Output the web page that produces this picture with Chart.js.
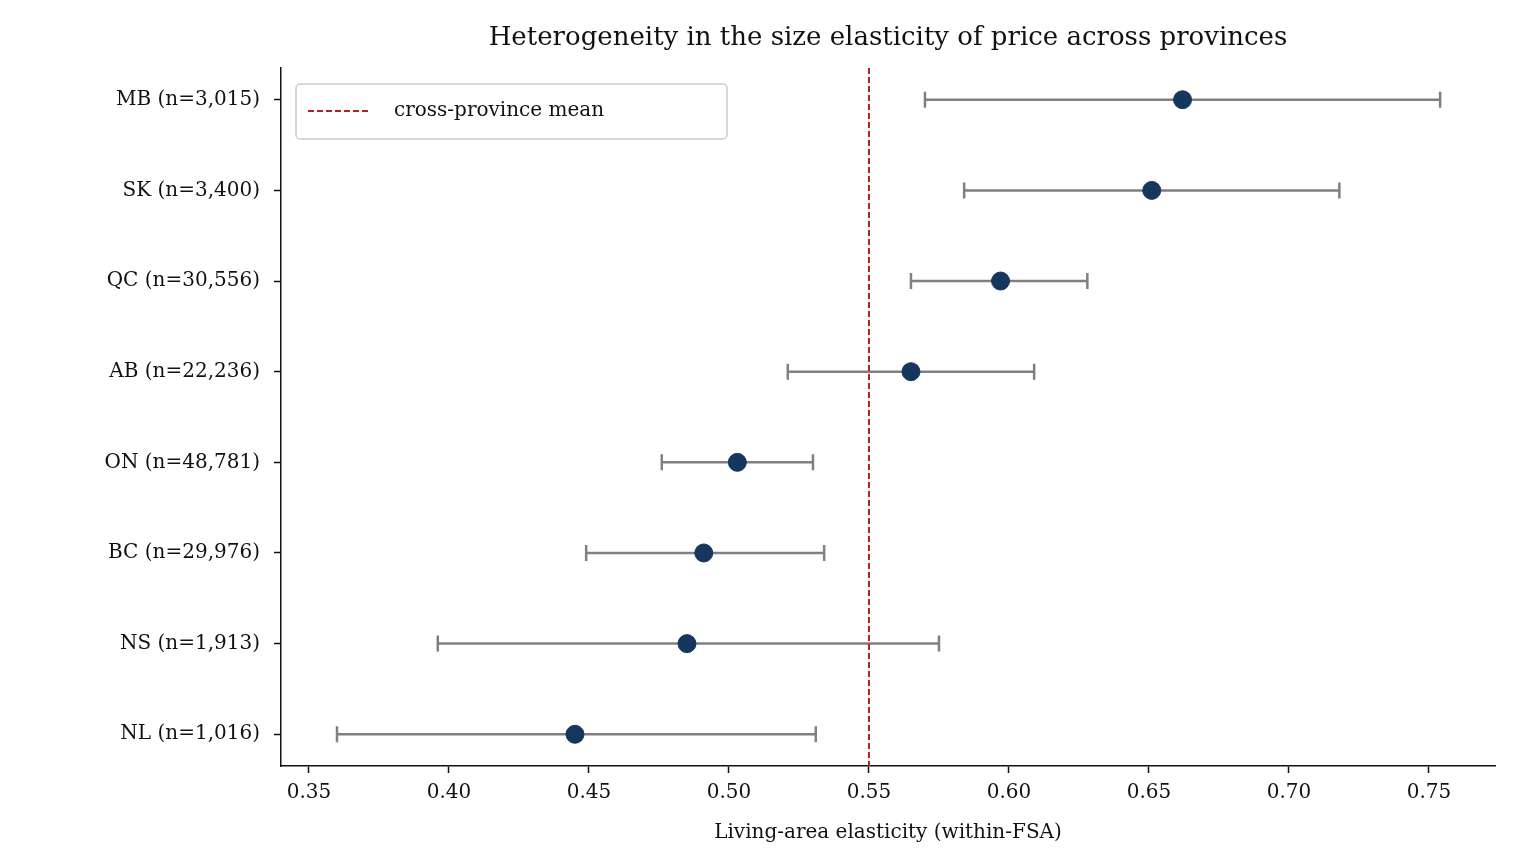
<!DOCTYPE html>
<html>
<head>
<meta charset="utf-8">
<script src="https://cdn.jsdelivr.net/npm/chart.js@4.4.0/dist/chart.umd.min.js"></script>
<style>
  html, body { margin: 0; padding: 0; background: #fff; }
  #wrap { width: 1517px; height: 865px; }
</style>
</head>
<body>
<div id="wrap"><canvas id="chart" width="1517" height="865"></canvas></div>
<script>
// Provinces, top to bottom
const provinces = ['MB (n=3,015)', 'SK (n=3,400)', 'QC (n=30,556)', 'AB (n=22,236)',
                   'ON (n=48,781)', 'BC (n=29,976)', 'NS (n=1,913)', 'NL (n=1,016)'];
const estimates = [0.662, 0.651, 0.597, 0.565, 0.503, 0.491, 0.485, 0.445];
const lower     = [0.570, 0.584, 0.565, 0.521, 0.476, 0.449, 0.396, 0.360];
const upper     = [0.754, 0.718, 0.628, 0.609, 0.530, 0.534, 0.575, 0.531];
const crossMean = 0.55;
const xTicks = [0.35, 0.40, 0.45, 0.50, 0.55, 0.60, 0.65, 0.70, 0.75];
const titleText = 'Heterogeneity in the size elasticity of price across provinces';

const FONT = "'DejaVu Serif', 'Liberation Serif', serif";
const N = provinces.length;

// error bars beneath the points, title and legend on top
const errorBars = {
    id: 'errorBars',
    beforeDatasetsDraw(chart) {
        const { ctx, scales: { x, y } } = chart;
        ctx.save();
        ctx.strokeStyle = '#808080';
        ctx.lineWidth = 2.5;
        estimates.forEach((v, i) => {
            const py = y.getPixelForValue(i);
            const x0 = x.getPixelForValue(lower[i]);
            const x1 = x.getPixelForValue(upper[i]);
            ctx.beginPath();
            ctx.moveTo(x0, py); ctx.lineTo(x1, py);
            ctx.moveTo(x0, py - 8); ctx.lineTo(x0, py + 8);
            ctx.moveTo(x1, py - 8); ctx.lineTo(x1, py + 8);
            ctx.stroke();
        });
        ctx.restore();
    },
    afterDraw(chart) {
        const { ctx, chartArea } = chart;
        ctx.save();
        // title centred over the plot area
        ctx.fillStyle = '#111';
        ctx.font = '26px ' + FONT;
        ctx.textAlign = 'center';
        ctx.textBaseline = 'middle';
        ctx.fillText(titleText, (chartArea.left + chartArea.right) / 2, 38);
        // legend box, top-left inside the plot
        const lx = 296, ly = 84;
        ctx.fillStyle = 'rgba(255,255,255,0.8)';
        ctx.strokeStyle = '#cccccc';
        ctx.lineWidth = 1.5;
        ctx.beginPath();
        ctx.roundRect(lx, ly, 431, 55, 4);
        ctx.fill(); ctx.stroke();
        ctx.strokeStyle = '#b22222';
        ctx.lineWidth = 2;
        ctx.setLineDash([6, 3]);
        ctx.beginPath();
        ctx.moveTo(lx + 12, ly + 27); ctx.lineTo(lx + 72, ly + 27);
        ctx.stroke();
        ctx.setLineDash([]);
        ctx.fillStyle = '#111';
        ctx.font = '20px ' + FONT;
        ctx.textAlign = 'left';
        ctx.fillText('cross-province mean', lx + 98, ly + 27);
        ctx.restore();
    }
};

new Chart(document.getElementById('chart'), {
    type: 'scatter',
    data: {
        datasets: [
            {
                label: 'estimate',
                data: estimates.map((v, i) => ({ x: v, y: i })),
                backgroundColor: '#17365d',
                borderColor: '#17365d',
                pointRadius: 9,
                pointHoverRadius: 9
            },
            {
                label: 'cross-province mean',
                data: [{ x: crossMean, y: -0.35 }, { x: crossMean, y: N - 0.65 }],
                showLine: true,
                borderColor: '#b22222',
                borderWidth: 2,
                borderDash: [6, 3],
                pointRadius: 0
            }
        ]
    },
    options: {
        responsive: false,
        animation: false,
        layout: { padding: { left: 0, right: 22, top: 68, bottom: 16 } },
        plugins: {
            legend: { display: false },
            tooltip: { enabled: false },
            title: { display: false }
        },
        scales: {
            x: {
                type: 'linear',
                min: 0.34, max: 0.7736,
                afterBuildTicks(axis) { axis.ticks = xTicks.map(v => ({ value: v })); },
                grid: { display: true, drawOnChartArea: false, drawTicks: true, tickLength: 7, tickColor: '#111', tickWidth: 1.5 },
                border: { color: '#111', width: 1.5 },
                ticks: { color: '#111', font: { family: FONT, size: 20 }, padding: 8,
                         callback: v => v.toFixed(2) },
                title: { display: true, text: 'Living-area elasticity (within-FSA)', color: '#111',
                         font: { family: FONT, size: 20 }, padding: { top: 8 } }
            },
            y: {
                type: 'linear',
                reverse: true,
                min: -0.35, max: N - 0.65,
                afterBuildTicks(axis) { axis.ticks = provinces.map((p, i) => ({ value: i })); },
                afterFit(axis) { axis.width = 281; },
                grid: { display: true, drawOnChartArea: false, drawTicks: true, tickLength: 7, tickColor: '#111', tickWidth: 1.5 },
                border: { color: '#111', width: 1.5 },
                ticks: { color: '#111', font: { family: FONT, size: 20 }, padding: 14,
                         callback: v => provinces[v] }
            }
        }
    },
    plugins: [errorBars]
});
</script>
</body>
</html>
